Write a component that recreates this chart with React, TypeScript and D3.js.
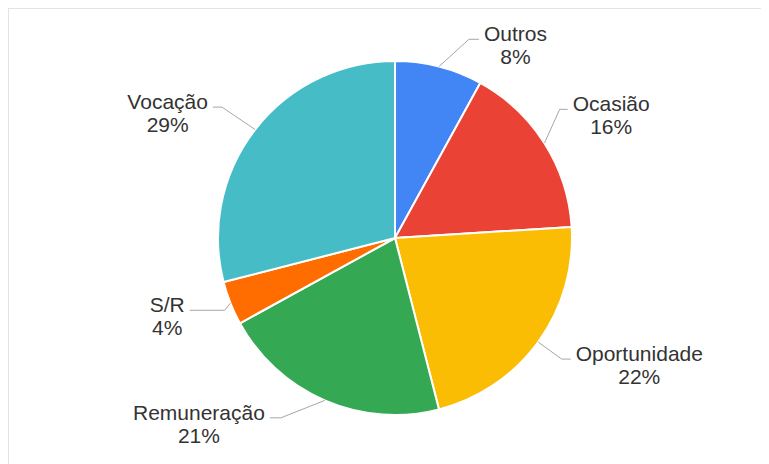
import React, { useRef, useEffect } from 'react';
import * as d3 from 'd3';

// chart data
const categories = ['Outros', 'Ocasião', 'Oportunidade', 'Remuneração', 'S/R', 'Vocação'];
const values = [8, 16, 22, 21, 4, 29];
const sliceColors = ['#4285F4', '#EA4335', '#FBBC04', '#34A853', '#FF6D01', '#46BDC6'];

// label layout tweaks (elbow angle shift in degrees, elbow radius, horizontal leader length)
const labelAngleShift = [6, -5.6, 0, 9, -1.4, -0.7];
const labelRadius = [212, 209, 206, 213, 185, 217];
const leaderLength = [10, 8, 9, 11, 35, 9];

const App = () => {
  const svgRef = useRef<SVGSVGElement | null>(null);
  const width = 761;
  const height = 456;

  useEffect(() => {
    if (!svgRef.current) return;
    document.body.style.overflow = 'hidden';

    const svg = d3.select(svgRef.current);
    svg.selectAll('*').remove();

    // outer frame (right/bottom run off the page)
    svg.append('rect')
      .attr('x', 0.5).attr('y', 0.5)
      .attr('width', width + 20).attr('height', height + 20)
      .attr('fill', '#fff')
      .attr('stroke', '#e3e3e3');

    const cx = 387;
    const cy = 230;
    const radius = 177;
    const total = d3.sum(values);

    const g = svg.append('g').attr('transform', `translate(${cx},${cy})`);

    const pie = d3.pie<number>().value(d => d).sort(null);
    const arc = d3.arc<d3.PieArcDatum<number>>().innerRadius(0).outerRadius(radius);
    const arcs = pie(values);

    g.selectAll('path.slice')
      .data(arcs)
      .enter()
      .append('path')
      .attr('class', 'slice')
      .attr('d', arc)
      .attr('fill', (d, i) => sliceColors[i])
      .attr('stroke', '#fff')
      .attr('stroke-width', 2)
      .attr('stroke-linejoin', 'round');

    arcs.forEach((d, i) => {
      const mid = (d.startAngle + d.endAngle) / 2;
      const ex = Math.sin(mid) * radius;
      const ey = -Math.cos(mid) * radius;
      const la = mid + (labelAngleShift[i] * Math.PI) / 180;
      const bx = Math.sin(la) * labelRadius[i];
      const by = -Math.cos(la) * labelRadius[i];
      const right = bx > 0;
      const hx = right ? bx + leaderLength[i] : bx - leaderLength[i];

      g.append('polyline')
        .attr('points', `${ex},${ey} ${bx},${by} ${hx},${by}`)
        .attr('fill', 'none')
        .attr('stroke', '#a6a6a6')
        .attr('stroke-width', 1);

      const pct = `${Math.round((values[i] / total) * 100)}%`;
      const t = g.append('text')
        .attr('font-family', 'Arial, "Liberation Sans", sans-serif')
        .attr('font-size', 21)
        .attr('fill', '#333')
        .attr('text-anchor', 'middle');
      const l1 = t.append('tspan').text(categories[i]);
      const w = (l1.node() as SVGTSpanElement).getComputedTextLength();
      const gap = 5;
      const center = right ? hx + gap + w / 2 : hx - gap - w / 2;
      l1.attr('x', center).attr('y', by + 2);
      t.append('tspan').attr('x', center).attr('y', by + 25).text(pct);
    });
  }, []);

  return (
    <svg ref={svgRef} width={width} height={height} style={{ display: 'block' }}></svg>
  );
};

export default App;
